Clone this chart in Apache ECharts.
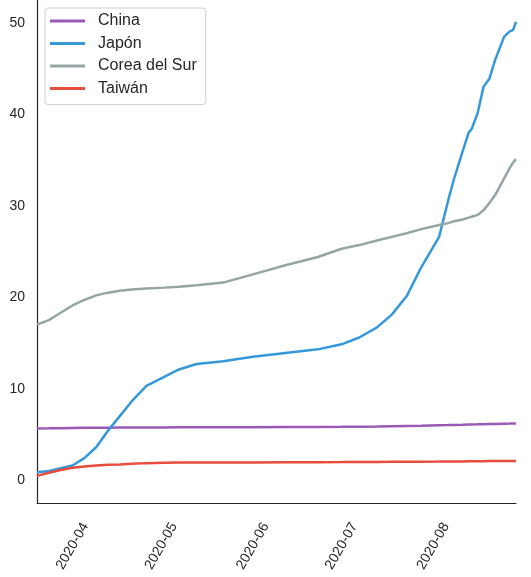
<!DOCTYPE html>
<html>
<head>
<meta charset="utf-8">
<script src="https://cdn.jsdelivr.net/npm/echarts@6/dist/echarts.min.js"></script>
<style>
html,body{margin:0;padding:0;background:#fff;}
#chart{width:531px;height:577px;}
</style>
</head>
<body>
<div id="chart"></div>
<script>
const dates = ['2020-03-20','2020-03-24','2020-03-28','2020-04-01','2020-04-05','2020-04-09','2020-04-13','2020-04-17','2020-04-21','2020-04-26','2020-05-02','2020-05-07','2020-05-13','2020-05-22','2020-06-01','2020-06-12','2020-06-23','2020-07-01','2020-07-07','2020-07-13','2020-07-18','2020-07-23','2020-07-28','2020-08-03','2020-08-06','2020-08-08','2020-08-11','2020-08-13','2020-08-14','2020-08-16','2020-08-18','2020-08-20','2020-08-22','2020-08-25','2020-08-27','2020-08-28','2020-08-29'];
const china  = [5.65,5.66,5.68,5.7,5.72,5.73,5.74,5.75,5.75,5.76,5.76,5.77,5.77,5.78,5.79,5.8,5.81,5.83,5.85,5.87,5.9,5.93,5.96,6.0,6.02,6.04,6.06,6.08,6.09,6.1,6.12,6.14,6.15,6.17,6.18,6.19,6.2];
const japan  = [0.85,1.0,1.3,1.6,2.4,3.6,5.4,7.0,8.6,10.3,11.3,12.1,12.7,13.0,13.5,13.9,14.3,14.85,15.6,16.7,18.1,20.1,23.3,26.6,30.5,32.9,36.0,38.0,38.4,40.1,43.0,43.9,46.0,48.5,49.1,49.2,50.1];
const korea  = [17.0,17.5,18.3,19.1,19.7,20.2,20.5,20.7,20.85,20.95,21.05,21.15,21.3,21.6,22.5,23.5,24.4,25.3,25.7,26.2,26.6,27.0,27.45,27.9,28.1,28.3,28.5,28.7,28.8,29.0,29.5,30.3,31.2,33.0,34.2,34.7,35.1];
const taiwan = [0.47,0.8,1.1,1.35,1.5,1.6,1.67,1.72,1.8,1.86,1.9,1.92,1.93,1.93,1.94,1.95,1.96,1.97,1.98,1.99,2.0,2.01,2.02,2.03,2.04,2.05,2.05,2.06,2.06,2.07,2.07,2.08,2.08,2.09,2.09,2.1,2.1];
const seriesNames = ['China','Japón','Corea del Sur','Taiwán'];
const yTicks = [0,10,20,30,40,50];
const xTicks = ['2020-04-01','2020-05-01','2020-06-01','2020-07-01','2020-08-01'];

const colors = ['#9b59b6','#3498db','#95a5a6','#e74c3c'];
const allVals = [china, japan, korea, taiwan];
function toTs(s){ const p=s.split('-').map(Number); return Date.UTC(p[0],p[1]-1,p[2]); }

const chart = echarts.init(document.getElementById('chart'));
chart.setOption({
  animation:false,
  backgroundColor:'#fff',
  color: colors,
  textStyle:{fontFamily:'Liberation Sans, Arial, sans-serif'},
  grid:{left:37, right:15, top:0, bottom:74, containLabel:false},
  legend:{
    orient:'vertical', left:45, top:8,
    data: seriesNames,
    icon:'rect', itemWidth:35, itemHeight:3, itemGap:6.5,
    padding:[5,9,8,5],
    backgroundColor:'#fff', borderColor:'#d0d0d0', borderWidth:1, borderRadius:3,
    textStyle:{fontSize:16, color:'#262626', lineHeight:16, padding:[0,0,0,8], fontFamily:'Liberation Sans, Arial, sans-serif'}
  },
  xAxis:{
    type:'value',
    min: toTs(dates[0]), max: toTs(dates[dates.length-1]),
    axisLine:{show:true, onZero:false, lineStyle:{color:'#262626', width:1.2}},
    axisTick:{show:false},
    splitLine:{show:false},
    axisLabel:{
      customValues: xTicks.map(toTs),
      rotate:60, align:'center', verticalAlign:'middle', margin:43,
      fontSize:14, color:'#262626',
      formatter:function(v){ const d=new Date(v); return d.getUTCFullYear()+'-'+String(d.getUTCMonth()+1).padStart(2,'0'); }
    }
  },
  yAxis:{
    type:'value', min:-2.5, max:52.5,
    axisLine:{show:true, lineStyle:{color:'#262626', width:1.2}},
    axisTick:{show:false},
    splitLine:{show:false},
    axisLabel:{customValues: yTicks, fontSize:14, color:'#262626', margin:12}
  },
  series: seriesNames.map((n,k)=>({
    name:n, type:'line', showSymbol:false, symbol:'none',
    lineStyle:{width:2.5, color:colors[k]},
    itemStyle:{color:colors[k]},
    z: k===3?5:2,
    data: dates.map((d,i)=>[toTs(d), allVals[k][i]])
  }))
});
</script>
</body>
</html>
